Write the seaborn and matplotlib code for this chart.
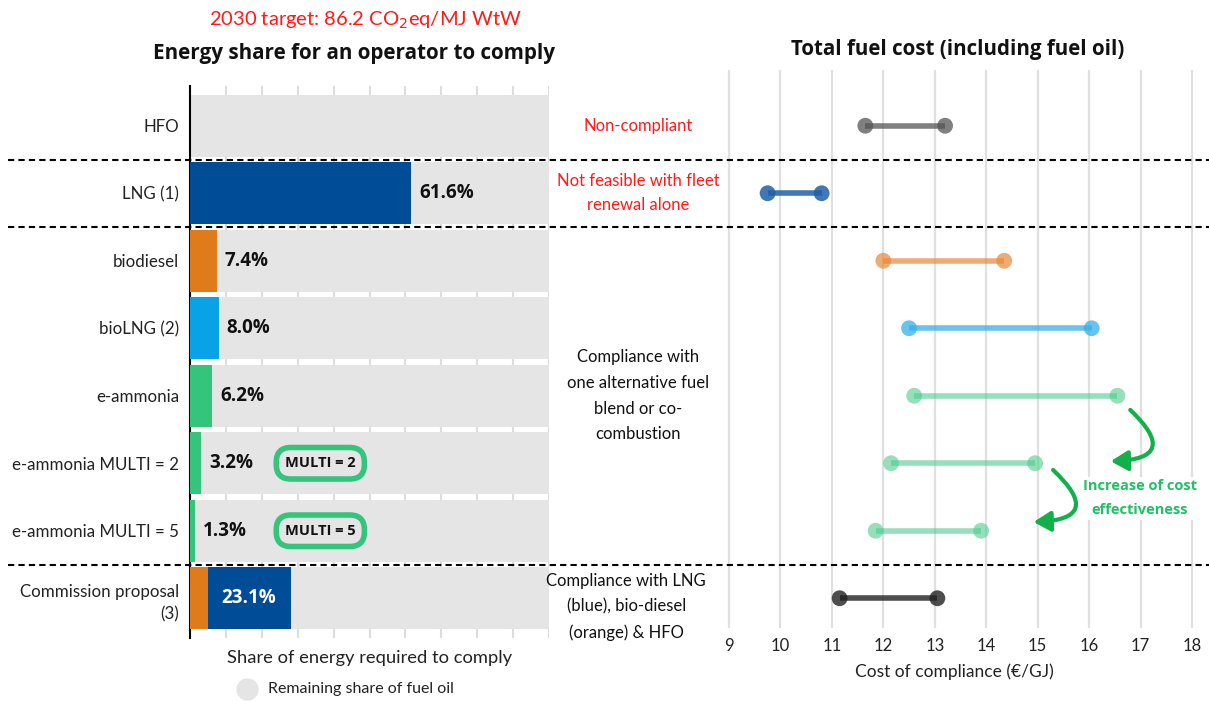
import numpy as np
import pandas as pd
import matplotlib.pyplot as plt
import matplotlib.transforms as mtransforms
from matplotlib.lines import Line2D
from matplotlib.patches import FancyArrowPatch
import seaborn as sns

fuels = ["HFO", "LNG (1)", "biodiesel", "bioLNG (2)", "e-ammonia",
         "e-ammonia MULTI = 2", "e-ammonia MULTI = 5", "Commission proposal\n(3)"]
share = [0, 61.6, 7.4, 8.0, 6.2, 3.2, 1.3, 23.1]
commission_biodiesel = 4.9
share_colors = ["#e5e5e5", "#004c97", "#e07b1b", "#0aa2e6", "#35c47c",
                "#35c47c", "#35c47c", "#004c97"]
multi_badges = {5: "MULTI = 2", 6: "MULTI = 5"}

cost_low = [11.65, 9.75, 12.0, 12.5, 12.6, 12.15, 11.85, 11.15]
cost_high = [13.2, 10.8, 14.35, 16.05, 16.55, 14.95, 13.9, 13.05]
cost_colors = ["#555555", "#1f5fa8", "#e8893a", "#35b1ea", "#4fcb8c",
               "#4fcb8c", "#4fcb8c", "#222222"]
cost_alpha = [0.75, 0.85, 0.7, 0.75, 0.6, 0.6, 0.6, 0.8]

red_notes = {0: "Non-compliant", 1: "Not feasible with fleet\nrenewal alone"}
black_notes = {4: "Compliance with\none alternative fuel\nblend or co-\ncombustion",
               7: "Compliance with LNG\n(blue), bio-diesel\n(orange) & HFO"}
separators = [0.5, 1.5, 6.5]

sns.set_theme(style="white")
plt.rcParams["font.family"] = ["Lato", "DejaVu Sans"]
BOLD = ["Open Sans", "DejaVu Sans"]

W, H = 1209, 701
fig = plt.figure(figsize=(W / 100, H / 100), dpi=100)


def px_axes(x0, y0, x1, y1):
    return fig.add_axes([x0 / W, 1 - y1 / H, (x1 - x0) / W, (y1 - y0) / H])


row_px = 67.5
ax2 = px_axes(700, 70, 1209, 628)
ax = px_axes(190, 86, 549, 638)
ax.patch.set_alpha(0)
ax2.patch.set_alpha(0)

# ---- left: energy shares
df = pd.DataFrame({"fuel": fuels, "share": share})
df["total"] = df["share"] + np.where(df.index == 7, commission_biodiesel, 0)
sns.barplot(data=df.assign(full=100), x="full", y="fuel", color="#e5e5e5",
            saturation=1, width=0.92, linewidth=0, ax=ax, orient="h", zorder=2)
sns.barplot(data=df, x="total", y="fuel", hue="fuel", palette=share_colors,
            saturation=1, width=0.92, linewidth=0, ax=ax, orient="h",
            legend=False, zorder=3)
ax.barh(7, commission_biodiesel, height=0.92, color="#e07b1b", lw=0, zorder=4)

ax.set_xlim(0, 100)
ax.set_ylim(7.5 + 6 / row_px, -0.5 - 6 / row_px)
ax.set_xticks(np.arange(0, 101, 10))
ax.set_xticklabels([])
ax.grid(axis="x", color="#dddddd", lw=1.5, zorder=0)
ax.set_axisbelow(True)
for s in ["top", "right", "bottom"]:
    ax.spines[s].set_visible(False)
ax.spines["left"].set_color("black")
ax.spines["left"].set_linewidth(1.5)
ax.tick_params(axis="y", length=0, labelsize=12.2, pad=8, labelcolor="#222222")
for lab in ax.get_yticklabels():
    lab.set_linespacing(1.5)
ax.tick_params(axis="x", length=0)
ax.set_ylabel("")
ax.set_xlabel("Share of energy required to comply", fontsize=13.2, labelpad=5,
              color="#222222")

for i, v in enumerate(share):
    if i == 0:
        continue
    if i == 7:
        ax.text(commission_biodiesel + v / 2, i, f"{v:.1f}%", color="white",
                fontsize=13.5, fontweight="bold", family=BOLD,
                ha="center", va="center", zorder=5)
    else:
        ax.text(df["total"][i] + 2.2, i, f"{v:.1f}%", color="#111111",
                fontsize=13.5, fontweight="bold", family=BOLD,
                ha="left", va="center", zorder=5)

for i, lab in multi_badges.items():
    ax.text(36.3, i, lab, fontsize=10.5, fontweight="bold", family=BOLD,
            ha="center", va="center", color="#111111", zorder=6,
            bbox=dict(boxstyle="round,pad=0.6,rounding_size=1.0", fc="#e5e5e5",
                      ec="#35c47c", lw=4))

# middle column notes
for i, t in red_notes.items():
    ax.text(124.8, i, t, color="#ff1a1a", fontsize=12, ha="center", va="center",
            linespacing=1.6, clip_on=False)
for i, t in black_notes.items():
    ax.text(124.8 if i == 4 else 121.5, i if i == 4 else i + 0.13, t,
            color="#111111", fontsize=12, ha="center", va="center",
            linespacing=1.75, clip_on=False)

# ---- right: cost ranges
ys = np.arange(len(fuels))
ax2.set_xlim(9 - 29 / 51.4, 18 + 17 / 51.4)
ax2.set_ylim(7.5 - 4 / row_px, -0.5 - 22 / row_px)
cost_df = pd.DataFrame({"y": np.concatenate([ys, ys]),
                        "cost": cost_low + cost_high,
                        "fuel": fuels + fuels})
for i in ys:
    sub = cost_df[cost_df["y"] == i]
    sns.scatterplot(data=sub, x="cost", y="y", color=cost_colors[i], s=130,
                    alpha=cost_alpha[i], edgecolor="none", ax=ax2, zorder=3)
    ax2.hlines(i, cost_low[i], cost_high[i], color=cost_colors[i],
               alpha=cost_alpha[i], lw=4, zorder=4)
ax2.set_xticks(range(9, 19))
ax2.grid(axis="x", color="#e0e0e0", lw=1.6, zorder=0)
ax2.grid(axis="y", visible=False)
ax2.set_yticks([])
for s in ax2.spines.values():
    s.set_visible(False)
ax2.tick_params(axis="x", length=0, labelsize=12, pad=7, labelcolor="#222222")
ax2.set_ylabel("")
ax2.set_xlabel("Cost of compliance (€/GJ)", fontsize=12.5, labelpad=7,
               color="#222222")

arrow_kw = dict(arrowstyle="-|>,head_length=0.85,head_width=0.5", color="#12b04a",
                lw=3, mutation_scale=12, shrinkA=0, shrinkB=0, zorder=6)
ax2.add_patch(FancyArrowPatch((16.80, 4.21), (16.42, 4.97),
                              connectionstyle="arc3,rad=-1.2", **arrow_kw))
ax2.add_patch(FancyArrowPatch((15.30, 5.10), (14.92, 5.87),
                              connectionstyle="arc3,rad=-1.2", **arrow_kw))
ax2.text(16.98, 5.52, "Increase of cost\neffectiveness", color="#22c067",
         fontsize=10.5, fontweight="bold", family=BOLD, ha="center", va="center",
         linespacing=1.9, zorder=7, bbox=dict(fc="white", ec="none", pad=2))

# dashed separators across the whole figure
trans = mtransforms.blended_transform_factory(fig.transFigure, ax.transData)
for y in separators:
    fig.add_artist(Line2D([8 / W, 1], [y, y], transform=trans, color="black",
                          lw=1.5, ls=(0, (3, 2))))

# titles
fig.text(365 / W, 1 - 20 / H, "2030 target: 86.2 CO$_2$eq/MJ WtW", color="#ff1a1a",
         fontsize=14.5, ha="center", va="center")
fig.text(354 / W, 1 - 53 / H, "Energy share for an operator to comply",
         fontsize=14.9, fontweight="bold", family=BOLD, ha="center", va="center",
         color="#111111")
fig.text(958 / W, 1 - 49 / H, "Total fuel cost (including fuel oil)",
         fontsize=14.8, fontweight="bold", family=BOLD, ha="center", va="center",
         color="#111111")

# legend for the grey background
fig.add_artist(Line2D([247 / W], [1 - 689 / H], marker="o", ms=15, color="#e5e5e5",
                      ls="", transform=fig.transFigure))
fig.text(268 / W, 1 - 689 / H, "Remaining share of fuel oil", fontsize=11.5,
         ha="left", va="center", color="#222222")

fig.savefig("out.png", dpi=100, facecolor="white")
